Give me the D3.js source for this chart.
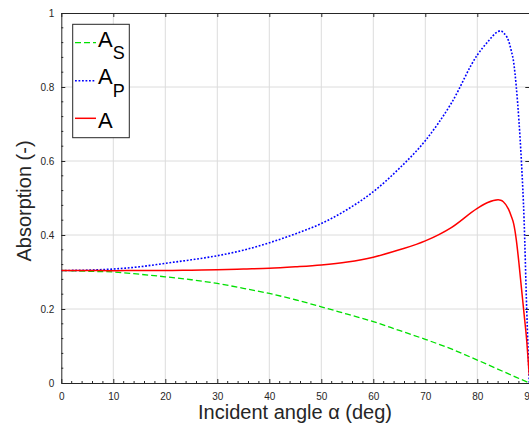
<!DOCTYPE html>
<html>
<head>
<meta charset="utf-8">
<script src="https://cdn.jsdelivr.net/npm/d3@7"></script>
<style>
  body { margin: 0; background: #fff; }
  text { font-family: "Liberation Sans", Arial, sans-serif; }
</style>
</head>
<body>
<div id="chart"></div>
<script>
// values
var anglesS = [0, 5, 10, 15, 20, 25, 30, 35, 40, 45, 50, 55, 60, 65, 70, 75, 80, 85, 90];
var absS = [0.304, 0.302, 0.300, 0.294, 0.287, 0.279, 0.269, 0.256, 0.242, 0.225, 0.206, 0.186, 0.166, 0.142, 0.118, 0.092, 0.062, 0.031, 0.0];

var anglesPA = [0, 5, 10, 15, 20, 25, 30, 35, 40, 45, 50, 55, 60, 65, 70, 75, 80, 82, 84, 84.5, 85, 86, 86.5, 87, 87.5, 88, 88.5, 89, 89.5, 90];
var absP = [0.304, 0.305, 0.308, 0.314, 0.3235, 0.333, 0.344, 0.359, 0.379, 0.403, 0.431, 0.469, 0.517, 0.58, 0.655, 0.756, 0.8865, 0.922, 0.950, 0.952, 0.947, 0.925, 0.90, 0.866, 0.80, 0.71, 0.595, 0.44, 0.20, 0.0];
var absA = [0.304, 0.304, 0.3035, 0.304, 0.304, 0.305, 0.306, 0.308, 0.310, 0.314, 0.319, 0.327, 0.340, 0.360, 0.384, 0.420, 0.472, 0.488, 0.495, 0.494, 0.490, 0.470, 0.452, 0.430, 0.387, 0.325, 0.255, 0.186, 0.115, 0.02];

var xTicks = [0, 10, 20, 30, 40, 50, 60, 70, 80, 90];
var yTicks = [0, 0.2, 0.4, 0.6, 0.8, 1];

var width = 529, height = 427;
var plotL = 61.3, plotR = 529.3, plotT = 13, plotB = 383;

var svg = d3.select("#chart").append("svg")
  .attr("width", width)
  .attr("height", height);

var x = d3.scaleLinear().domain([0, 90]).range([plotL, plotR]);
var y = d3.scaleLinear().domain([0, 1]).range([plotB, plotT]);

// grid
svg.append("g").selectAll("line").data(xTicks.slice(1, -1)).enter().append("line")
  .attr("x1", d => x(d)).attr("x2", d => x(d))
  .attr("y1", plotT).attr("y2", plotB)
  .attr("stroke", "#dcdcdc").attr("stroke-width", 1);
svg.append("g").selectAll("line").data(yTicks.slice(1, -1)).enter().append("line")
  .attr("x1", plotL).attr("x2", plotR)
  .attr("y1", d => y(d)).attr("y2", d => y(d))
  .attr("stroke", "#dcdcdc").attr("stroke-width", 1);

// minor ticks
var xMinor = d3.range(0, 91, 2).filter(d => d % 10 !== 0);
var yMinor = d3.range(0, 1.001, 0.04).filter(d => Math.abs(d * 5 - Math.round(d * 5)) > 1e-6);
svg.append("g").selectAll("line").data(xMinor).enter().append("line")
  .attr("x1", d => x(d)).attr("x2", d => x(d))
  .attr("y1", plotB).attr("y2", plotB - 2)
  .attr("stroke", "#262626");
svg.append("g").selectAll("line").data(yMinor).enter().append("line")
  .attr("x1", plotL).attr("x2", plotL + 2)
  .attr("y1", d => y(d)).attr("y2", d => y(d))
  .attr("stroke", "#262626");

// axes
function styleAxis(g) {
  g.selectAll("path,line").attr("stroke", "#262626");
  g.selectAll("text").attr("fill", "#262626").style("font-size", "10px")
    .style("font-family", "'Liberation Sans', Arial, sans-serif");
}
svg.append("g").attr("transform", "translate(0," + plotB + ")")
  .call(d3.axisBottom(x).tickValues(xTicks).tickFormat(d3.format("d")).tickSize(-4).tickSizeOuter(0).tickPadding(10))
  .call(styleAxis);
svg.append("g").attr("transform", "translate(" + plotL + ",0)")
  .call(d3.axisLeft(y).tickValues(yTicks).tickFormat(d => d === 0 || d === 1 ? d : d.toFixed(1)).tickSize(-4).tickSizeOuter(0).tickPadding(7))
  .call(styleAxis);
svg.append("g").attr("transform", "translate(0," + plotT + ")")
  .call(d3.axisTop(x).tickValues(xTicks).tickFormat("").tickSize(-4).tickSizeOuter(0))
  .call(styleAxis);
svg.append("g").attr("transform", "translate(" + plotR + ",0)")
  .call(d3.axisRight(y).tickValues(yTicks).tickFormat("").tickSize(-4).tickSizeOuter(0))
  .call(styleAxis);

// curves
var line = d3.line().curve(d3.curveMonotoneX);
svg.append("path")
  .attr("d", line(anglesS.map((a, i) => [x(a), y(absS[i])])))
  .attr("fill", "none").attr("stroke", "#00e000").attr("stroke-width", 1.3)
  .attr("stroke-dasharray", "6,3");
svg.append("path")
  .attr("d", line(anglesPA.map((a, i) => [x(a), y(absP[i])])))
  .attr("fill", "none").attr("stroke", "#0000ff").attr("stroke-width", 1.6)
  .attr("stroke-dasharray", "1.8,1.7");
svg.append("path")
  .attr("d", line(anglesPA.map((a, i) => [x(a), y(absA[i])])))
  .attr("fill", "none").attr("stroke", "#ff0000").attr("stroke-width", 1.5);

// axis labels
svg.append("text")
  .attr("x", 295).attr("y", 419)
  .attr("text-anchor", "middle").style("font-size", "20px").attr("fill", "#262626")
  .text("Incident angle α (deg)");
svg.append("text")
  .attr("transform", "translate(31,201) rotate(-90)")
  .attr("text-anchor", "middle").style("font-size", "20px").attr("fill", "#262626")
  .text("Absorption (-)");

// legend
var legend = svg.append("g");
legend.append("rect")
  .attr("x", 72.7).attr("y", 24.3).attr("width", 56.6).attr("height", 113.4)
  .attr("fill", "#fff").attr("stroke", "#262626").attr("stroke-width", 1);
var entries = [
  { sub: "S", color: "#00e000", dash: "6,3", w: 1.3, ly: 42.7, base: 46.7, subShift: 12.6 },
  { sub: "P", color: "#0000ff", dash: "1.8,1.7", w: 1.6, ly: 80.7, base: 84.3, subShift: 13 },
  { sub: "", color: "#ff0000", dash: null, w: 1.5, ly: 118.3, base: 128.3, subShift: 0 }
];
entries.forEach(function(e) {
  legend.append("line")
    .attr("x1", 75).attr("x2", 96).attr("y1", e.ly).attr("y2", e.ly)
    .attr("stroke", e.color).attr("stroke-width", e.w)
    .attr("stroke-dasharray", e.dash);
  var t = legend.append("text").attr("x", 98).attr("y", e.base)
    .style("font-size", "22px").attr("fill", "#000");
  t.append("tspan").text("A");
  if (e.sub) {
    t.append("tspan").attr("dy", e.subShift).style("font-size", "18px").text(e.sub);
  }
});
</script>
</body>
</html>
